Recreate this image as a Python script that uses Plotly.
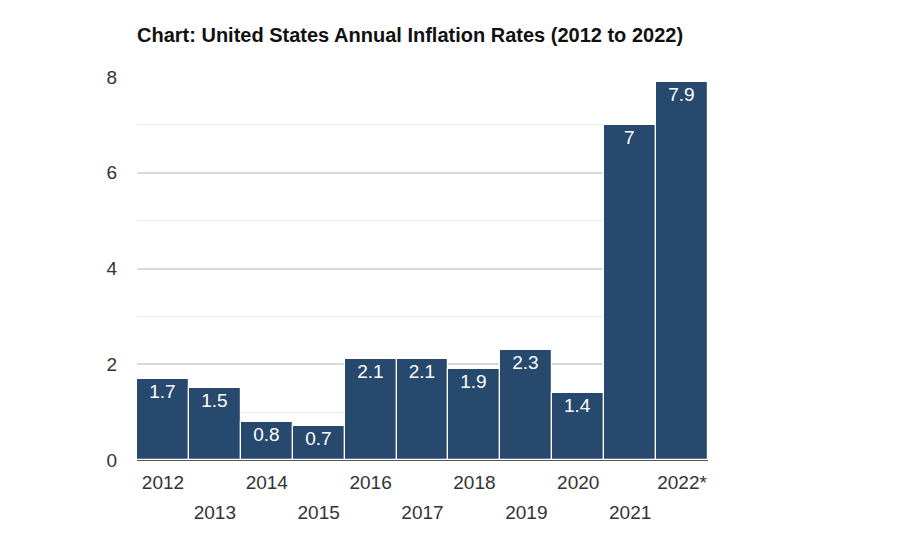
import plotly.graph_objects as go

years = ["2012", "2013", "2014", "2015", "2016", "2017", "2018", "2019", "2020", "2021", "2022*"]
rates = [1.7, 1.5, 0.8, 0.7, 2.1, 2.1, 1.9, 2.3, 1.4, 7.0, 7.9]
labels = ["1.7", "1.5", "0.8", "0.7", "2.1", "2.1", "1.9", "2.3", "1.4", "7", "7.9"]
y_ticks = [0, 2, 4, 6, 8]

idx = list(range(len(years)))
FONT = "Liberation Sans, Arial, sans-serif"

fig = go.Figure()
fig.add_trace(go.Bar(
    x=idx, y=rates, text=labels,
    textposition="inside", insidetextanchor="end",
    textfont=dict(family=FONT, size=19, color="white"),
    marker=dict(color="#27496d", line=dict(color="white", width=1.2)),
    hoverinfo="skip", width=1.0,
))
# carrier for the second (lower) row of year labels
fig.add_trace(go.Scatter(
    x=idx[1::2], y=rates[1::2], xaxis="x2", mode="markers",
    marker=dict(opacity=0), hoverinfo="skip",
))

W, H = 892, 528
fig.update_layout(
    width=W, height=H,
    paper_bgcolor="white", plot_bgcolor="white",
    margin=dict(l=129, r=192, t=69, b=76),
    showlegend=False, bargap=0,
    title=dict(text="<b>Chart: United States Annual Inflation Rates (2012 to 2022)</b>",
               x=129/W, xanchor="left", y=1-27/H, yanchor="middle",
               font=dict(family=FONT, size=20, color="#111")),
    font=dict(family=FONT, size=19, color="#333"),
    xaxis=dict(range=[-0.5, len(years)-0.5], tickvals=idx[0::2], ticktext=years[0::2],
               showgrid=False, zeroline=False, showline=False, ticks="",
               ticklabelstandoff=9, tickfont=dict(size=19, color="#333")),
    xaxis2=dict(range=[-0.5, len(years)-0.5], tickvals=idx[1::2], ticktext=years[1::2],
                overlaying="x", anchor="y", side="bottom",
                showgrid=False, zeroline=False, showline=False, ticks="",
                ticklabelstandoff=39, tickfont=dict(size=19, color="#333")),
    yaxis=dict(range=[0, 8], tickvals=y_ticks, showgrid=True, gridcolor="#d9d9d9", gridwidth=1.5,
               zeroline=True, zerolinecolor="#555", zerolinewidth=1.5,
               minor=dict(dtick=1, showgrid=True, gridcolor="#e8e8e8", gridwidth=1),
               ticks="", ticklabelstandoff=19, tickfont=dict(size=19, color="#333")),
)
fig.write_html("out.html")
